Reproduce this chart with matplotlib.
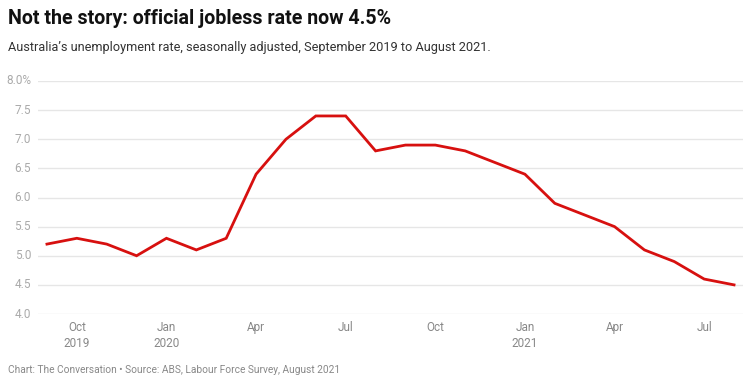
import matplotlib
matplotlib.use("Agg")
import matplotlib.pyplot as plt

months = ["Sep 2019", "Oct 2019", "Nov 2019", "Dec 2019", "Jan 2020", "Feb 2020", "Mar 2020",
          "Apr 2020", "May 2020", "Jun 2020", "Jul 2020", "Aug 2020", "Sep 2020", "Oct 2020",
          "Nov 2020", "Dec 2020", "Jan 2021", "Feb 2021", "Mar 2021", "Apr 2021", "May 2021",
          "Jun 2021", "Jul 2021", "Aug 2021"]
rate = [5.2, 5.3, 5.2, 5.0, 5.3, 5.1, 5.3, 6.4, 7.0, 7.4, 7.4, 6.8, 6.9, 6.9,
        6.8, 6.6, 6.4, 5.9, 5.7, 5.5, 5.1, 4.9, 4.6, 4.5]
xtick_idx = [1, 4, 7, 10, 13, 16, 19, 22]
xtick_labels = ["Oct\n2019", "Jan\n2020", "Apr", "Jul", "Oct", "Jan\n2021", "Apr", "Jul"]
ytick_vals = [4.0, 4.5, 5.0, 5.5, 6.0, 6.5, 7.0, 7.5, 8.0]
ytick_labels = ["4.0", "4.5", "5.0", "5.5", "6.0", "6.5", "7.0", "7.5", "8.0%"]

plt.rcParams['font.family'] = ['Roboto', 'DejaVu Sans']

fig = plt.figure(figsize=(7.54, 3.86), dpi=100)
ax = fig.add_axes([38/754, 72/386, 705/754, 233/386])

x = list(range(len(rate)))
ax.plot(x, rate, color="#d7100f", lw=2.0, solid_joinstyle="miter", zorder=3)

ax.set_xlim(-0.3, 23.3)
ax.set_ylim(4.0, 8.0)
ax.set_yticks(ytick_vals)
ax.set_yticklabels(ytick_labels)
ax.set_xticks(xtick_idx)
ax.set_xticklabels(xtick_labels, linespacing=1.3)
ax.grid(axis="y", color="#e6e6e6", lw=1.0)
ax.set_axisbelow(True)
for s in ax.spines.values():
    s.set_visible(False)
ax.tick_params(axis="y", length=0, pad=5, labelsize=8.5, labelcolor="#aaaaaa")
ax.tick_params(axis="x", length=0, pad=5, labelsize=8.5, labelcolor="#888888")
for lab in ax.get_yticklabels():
    lab.set_verticalalignment("center")

fig.text(8/754, 1 - 19/386, "Not the story: official jobless rate now 4.5%",
         fontsize=14.1, fontweight="bold", color="#111111", va="center", ha="left")
fig.text(8/754, 1 - 48/386,
         "Australia\u2019s unemployment rate, seasonally adjusted, September 2019 to August 2021.",
         fontsize=9.2, color="#333333", va="center", ha="left")
fig.text(8/754, 1 - 370/386,
         "Chart: The Conversation \u2022 Source: ABS, Labour Force Survey, August 2021",
         fontsize=7.3, color="#888888", va="center", ha="left")

fig.savefig("out.png", dpi=100, facecolor="white")
